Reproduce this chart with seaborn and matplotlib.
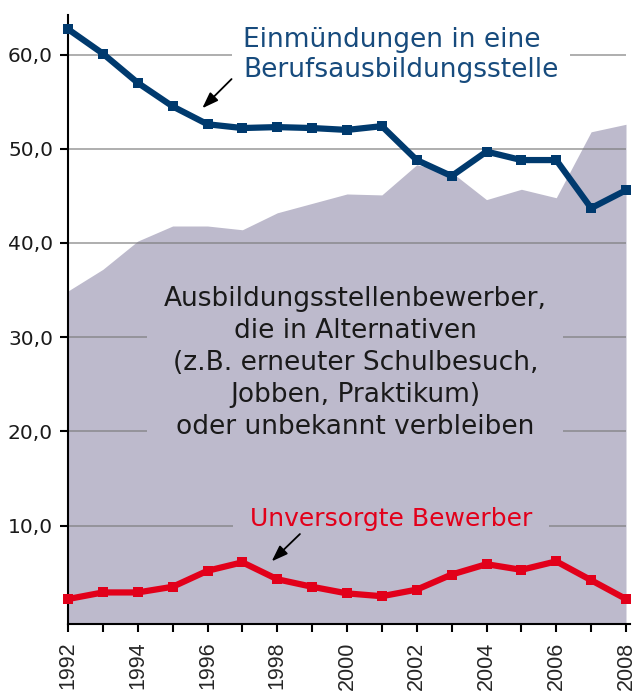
import matplotlib
matplotlib.use('Agg')
import matplotlib.pyplot as plt
import seaborn as sns
import pandas as pd
from matplotlib.ticker import MultipleLocator, FuncFormatter

# ---- data ----
years = list(range(1992, 2009))
einmuendungen = [62.7, 60.1, 57.0, 54.5, 52.6, 52.2, 52.3, 52.2, 52.0, 52.4,
                 48.8, 47.1, 49.7, 48.8, 48.8, 43.7, 45.6]
alternativen = [34.9, 37.2, 40.2, 41.8, 41.8, 41.4, 43.2, 44.2, 45.2, 45.1,
                48.3, 47.5, 44.6, 45.7, 44.8, 51.8, 52.6]
unversorgt = [2.2, 2.9, 2.9, 3.5, 5.2, 6.1, 4.3, 3.5, 2.8, 2.5,
              3.2, 4.8, 5.9, 5.3, 6.2, 4.2, 2.2]
y_ticks = [10, 20, 30, 40, 50, 60]
x_ticks = list(range(1992, 2009, 2))

label_top = "Einmündungen in eine\nBerufsausbildungsstelle"
label_mid = ("Ausbildungsstellenbewerber,\ndie in Alternativen\n"
             "(z.B. erneuter Schulbesuch,\nJobben, Praktikum)\n"
             "oder unbekannt verbleiben")
label_red = "Unversorgte Bewerber"

df = pd.DataFrame({"Jahr": years, "Einmuendungen": einmuendungen,
                   "Alternativen": alternativen, "Unversorgt": unversorgt})

NAVY = '#003a6e'
RED = '#e2001a'
AREA = '#bdbacc'
NAVY_TXT = '#174b7d'

sns.set_style('ticks')
plt.rcParams['font.family'] = ['DejaVu Sans']

fig = plt.figure(figsize=(6.36, 6.91), dpi=100)
ax = fig.add_axes([68 / 636, (691 - 624) / 691, (626 - 68) / 636, (624 - 15) / 691])
ax.set_xlim(1992, 2008)
ax.set_ylim(-0.45, 64.2)

ax.fill_between(df["Jahr"], df["Alternativen"], ax.get_ylim()[0],
                color=AREA, lw=0, zorder=1)

sns.lineplot(data=df, x="Jahr", y="Einmuendungen", color=NAVY, lw=4.5,
             marker='s', markersize=7.8, markeredgewidth=0, clip_on=False,
             zorder=5, ax=ax)
sns.lineplot(data=df, x="Jahr", y="Unversorgt", color=RED, lw=4.5,
             marker='s', markersize=7.8, markeredgewidth=0, clip_on=False,
             zorder=5, ax=ax)

ax.set_xlabel('')
ax.set_ylabel('')

# axes styling
for s in ['top', 'right']:
    ax.spines[s].set_visible(False)
for s in ['left', 'bottom']:
    ax.spines[s].set_linewidth(1.5)
    ax.spines[s].set_color('black')
ax.spines['bottom'].set_bounds(1992, 2008.12)

ax.set_xticks(x_ticks)
ax.xaxis.set_minor_locator(MultipleLocator(1))
ax.set_yticks(y_ticks)
ax.yaxis.set_major_formatter(FuncFormatter(lambda v, p: f"{v:.1f}".replace('.', ',')))
ax.tick_params(axis='x', which='both', length=5.8, width=1.5, direction='out',
               color='black', pad=7)
ax.tick_params(axis='x', which='major', labelrotation=90, labelsize=15.5)
ax.tick_params(axis='y', which='major', length=5.8, width=1.5, direction='out',
               color='black', pad=5, labelsize=14.5, labelcolor='#1a1a1a')
for t in ax.get_xticklabels():
    t.set_fontfamily('Liberation Sans')

ax.set_axisbelow('line')
ax.yaxis.grid(True, color='#7a7a7a', alpha=0.7, lw=1.2)
ax.xaxis.grid(False)

# labels
ax.text(1997.02, 60.0, label_top, ha='left', va='center', color=NAVY_TXT,
        fontsize=19, linespacing=1.2, zorder=3,
        bbox=dict(facecolor='white', edgecolor='none', pad=8))
ax.text(2000.24, 27.3, label_mid, ha='center', va='center', color='#1a1a1a',
        fontsize=19, linespacing=1.3, zorder=3,
        bbox=dict(facecolor=AREA, edgecolor='none', pad=12))
ax.text(1997.22, 10.7, label_red, ha='left', va='center', color=RED,
        fontsize=18, zorder=3,
        bbox=dict(facecolor=AREA, edgecolor='none', pad=12))

arrow = dict(arrowstyle='-|>,head_length=0.7,head_width=0.25', color='black',
             lw=1.3, mutation_scale=14, shrinkA=0, shrinkB=0)
ax.annotate('', xy=(1995.85, 54.3), xytext=(1996.69, 57.4), arrowprops=arrow, zorder=4)
ax.annotate('', xy=(1997.84, 6.2), xytext=(1998.65, 9.1), arrowprops=arrow, zorder=4)

fig.savefig('out.png', dpi=100)
